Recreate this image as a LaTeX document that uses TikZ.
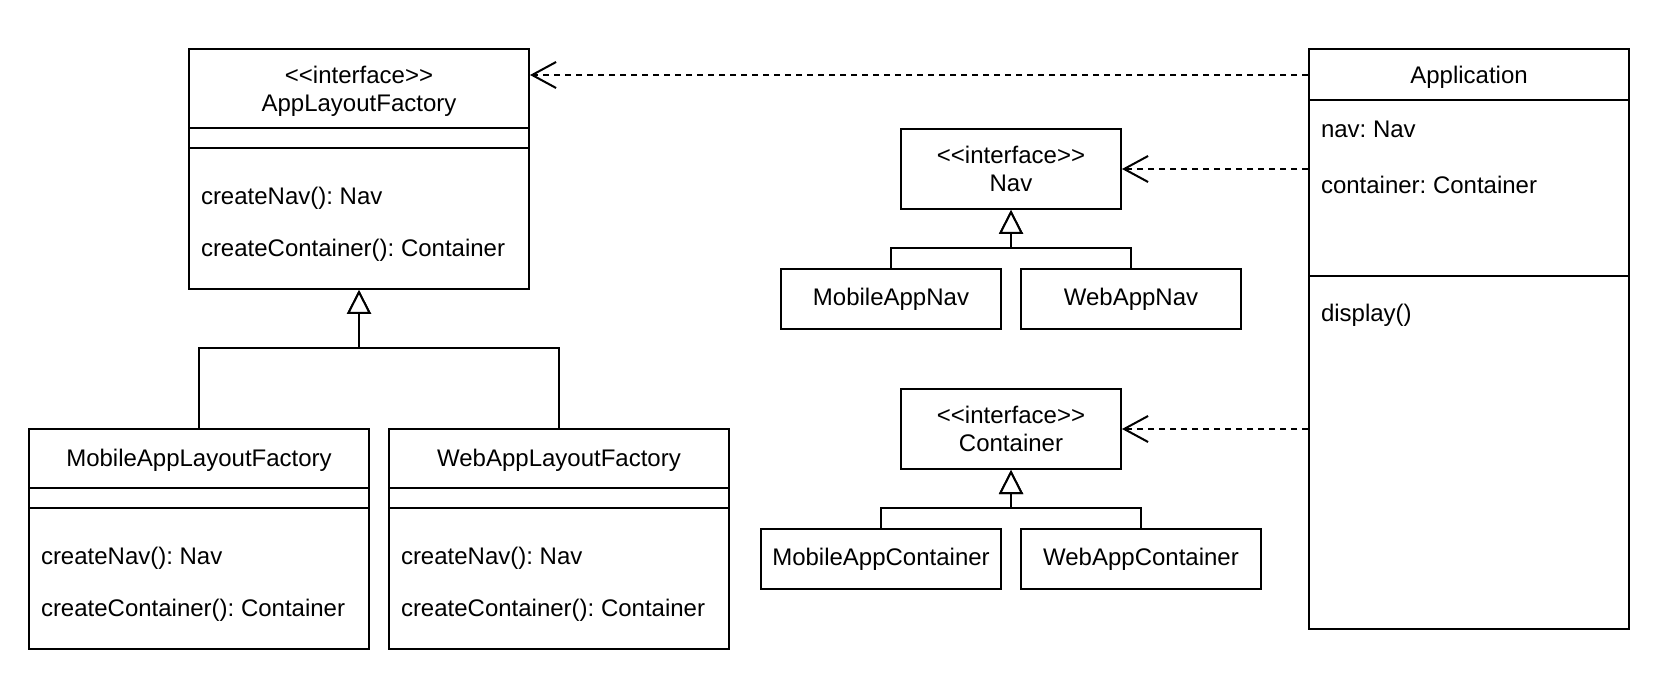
\documentclass[tikz,border=0pt]{standalone}
\usepackage{fontspec}
\setmainfont{Liberation Sans}
\usepackage{tikz}
\usetikzlibrary{arrows.meta}
\frenchspacing
\newcommand{\stereo}{<\kern0pt<interface>\kern0pt>}

\begin{document}
\begin{tikzpicture}[x=1pt, y=-1pt, line width=2pt,
  font=\fontsize{24}{28}\selectfont,
  umlbox/.style={draw, rectangle, inner sep=0pt, align=center},
  txt/.style={inner sep=0pt, text height=20pt, text depth=2pt},
  gen/.style={-{Triangle[open, fill=white, length=24pt, width=24pt]}},
  dep/.style={-{Straight Barb[length=24pt, width=26pt]}, dash pattern=on 6pt off 5pt}]

  \useasboundingbox (0,0) rectangle (1674,684);

  % factory interface
  \node[umlbox, minimum width=340pt, minimum height=240pt] (alf) at (359,169) {};
  \node[align=center, inner sep=0pt] (alf-name) at (359,91) {\stereo\\AppLayoutFactory};
  \draw ([yshift=-80pt]alf.north west) -- ([yshift=-80pt]alf.north east);
  \draw ([yshift=-100pt]alf.north west) -- ([yshift=-100pt]alf.north east);
  \node[txt, anchor=west] (alf-m1) at (200,196) {createNav(): Nav};
  \node[txt, anchor=west] (alf-m2) at (200,248) {createContainer(): Container};

  % concrete factories
  \node[umlbox, minimum width=340pt, minimum height=220pt] (mobf) at (199,539) {};
  \node[txt] (mobf-name) at (199,458) {MobileAppLayoutFactory};
  \draw ([yshift=-60pt]mobf.north west) -- ([yshift=-60pt]mobf.north east);
  \draw ([yshift=-80pt]mobf.north west) -- ([yshift=-80pt]mobf.north east);
  \node[txt, anchor=west] (mobf-m1) at (40,555) {createNav(): Nav};
  \node[txt, anchor=west] (mobf-m2) at (40,607) {createContainer(): Container};

  \node[umlbox, minimum width=340pt, minimum height=220pt] (webf) at (559,539) {};
  \node[txt] (webf-name) at (559,458) {WebAppLayoutFactory};
  \draw ([yshift=-60pt]webf.north west) -- ([yshift=-60pt]webf.north east);
  \draw ([yshift=-80pt]webf.north west) -- ([yshift=-80pt]webf.north east);
  \node[txt, anchor=west] (webf-m1) at (400,555) {createNav(): Nav};
  \node[txt, anchor=west] (webf-m2) at (400,607) {createContainer(): Container};

  % products
  \node[umlbox, minimum width=220pt, minimum height=80pt] (nav) at (1011,169) {\stereo\\Nav};
  \node[umlbox, minimum width=220pt, minimum height=60pt] (mobnav) at (891,299) {MobileAppNav};
  \node[umlbox, minimum width=220pt, minimum height=60pt] (webnav) at (1131,299) {WebAppNav};

  \node[umlbox, minimum width=220pt, minimum height=80pt] (cont) at (1011,429) {\stereo\\Container};
  \node[umlbox, minimum width=240pt, minimum height=60pt] (mobcont) at (881,559) {MobileAppContainer};
  \node[umlbox, minimum width=240pt, minimum height=60pt] (webcont) at (1141,559) {WebAppContainer};

  % client
  \node[umlbox, minimum width=320pt, minimum height=580pt] (app) at (1469,339) {};
  \node[txt] (app-name) at (1469,75) {Application};
  \draw ([yshift=-52pt]app.north west) -- ([yshift=-52pt]app.north east);
  \draw ([yshift=-228pt]app.north west) -- ([yshift=-228pt]app.north east);
  \node[txt, anchor=west] (app-a1) at (1320,129) {nav: Nav};
  \node[txt, anchor=west] (app-a2) at (1320,185) {container: Container};
  \node[txt, anchor=west] (app-m1) at (1320,313) {display()};

  \draw[gen] (mobf.north) -- ++(0,-80) -| (alf.south); % mobf->alf
  \draw[gen] (webf.north) -- ++(0,-80) -| (alf.south); % webf->alf
  \draw[gen] (mobnav.north) -- ++(0,-20) -| (nav.south); % mobnav->nav
  \draw[gen] (webnav.north) -- ++(0,-20) -| (nav.south); % webnav->nav
  \draw[gen] (mobcont.north) -- ++(0,-20) -| (cont.south); % mobcont->cont
  \draw[gen] (webcont.north) -- ++(0,-20) -| (cont.south); % webcont->cont

  \draw[dep] (app.west |- app-name) -- (alf.east |- app-name); % app->alf
  \draw[dep] (app.west |- nav) -- (nav.east); % app->nav
  \draw[dep] (app.west |- cont) -- (cont.east); % app->cont

\end{tikzpicture}
\end{document}
